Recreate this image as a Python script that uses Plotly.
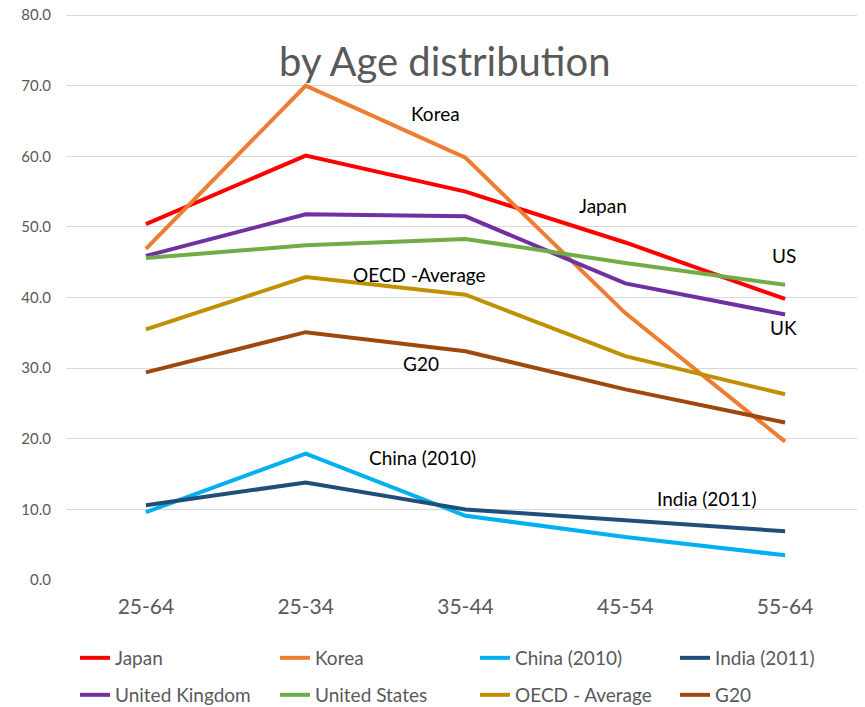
import plotly.graph_objects as go

categories = ["25-64", "25-34", "35-44", "45-54", "55-64"]
japan = [50.4, 60.1, 55.0, 47.8, 39.8]
korea = [46.9, 70.0, 59.8, 37.8, 19.6]
china = [9.6, 17.9, 9.1, 6.1, 3.5]
india = [10.6, 13.8, 10.0, 8.4, 6.9]
uk = [45.9, 51.8, 51.5, 42.0, 37.6]
us = [45.6, 47.4, 48.3, 44.9, 41.8]
oecd = [35.5, 42.9, 40.4, 31.7, 26.3]
g20 = [29.4, 35.1, 32.4, 27.0, 22.3]
yticks = [0, 10, 20, 30, 40, 50, 60, 70, 80]

series = [
    ("Japan", japan, "#FF0000", "legend"),
    ("Korea", korea, "#ED7D31", "legend"),
    ("China (2010)", china, "#00B0F0", "legend"),
    ("India (2011)", india, "#1F4E79", "legend"),
    ("United Kingdom", uk, "#7030A0", "legend2"),
    ("United States", us, "#70AD47", "legend2"),
    ("OECD - Average", oecd, "#BF9000", "legend2"),
    ("G20", g20, "#9E480E", "legend2"),
]

FONT = "Lato, Carlito, Calibri, sans-serif"
GRAY = "#595959"

# page body has an 8px margin; work in figure coordinates
OFF = 8
W, H = 865 - OFF, 707 - OFF
YMAX = 80.3
plot_bottom = 580 - OFF
px_per_unit = 565 / 80
ph = px_per_unit * YMAX
L = 66 - OFF
T = plot_bottom - ph
B = H - plot_bottom
R = 0
pw = W - L - R

fig = go.Figure()
for name, vals, color, lg in series:
    fig.add_trace(go.Scatter(x=categories, y=vals, name=name, mode="lines",
                             line=dict(color=color, width=4), legend=lg))

labels = [
    ("Korea", 1.81, 66.1),
    ("Japan", 2.86, 53.0),
    ("US", 3.99, 46.0),
    ("UK", 3.99, 35.7),
    ("OECD -Average", 1.71, 43.2),
    ("G20", 1.72, 30.7),
    ("China (2010)", 1.73, 17.3),
    ("India (2011)", 3.51, 11.6),
]
for t, x, y in labels:
    fig.add_annotation(x=x, y=y, xref="x", yref="y", text=t, showarrow=False,
                       font=dict(family=FONT, size=19, color="#000000"))

fig.add_annotation(x=(445 - OFF - L) / pw, y=(plot_bottom - (35 - OFF)) / ph,
                   xref="paper", yref="paper",
                   text="by Age distribution", showarrow=False,
                   font=dict(family=FONT, size=40, color=GRAY))

legfont = dict(family=FONT, size=19, color=GRAY)
lx = (75 - OFF - L) / pw
fig.update_layout(
    width=W, height=H,
    margin=dict(l=L, r=R, t=T, b=B, autoexpand=False),
    plot_bgcolor="white", paper_bgcolor="white",
    xaxis=dict(type="category", range=[-0.5, 4.5], showgrid=False, showline=False,
               ticks="", tickfont=dict(family=FONT, size=21, color=GRAY),
               ticklabelstandoff=12),
    yaxis=dict(range=[0, YMAX], tickvals=yticks, tickformat=".1f", showgrid=True,
               gridcolor="#D9D9D9", gridwidth=1, zeroline=False, showline=False,
               tickfont=dict(family=FONT, size=15, color=GRAY), ticklabelstandoff=14,
               ticklabeloverflow="allow"),
    legend=dict(orientation="h", x=lx, xanchor="left",
                y=-((639 - OFF) - plot_bottom) / ph, yanchor="top", font=legfont,
                entrywidth=155, entrywidthmode="pixels", bgcolor="rgba(0,0,0,0)"),
    legend2=dict(orientation="h", x=lx, xanchor="left",
                 y=-((676 - OFF) - plot_bottom) / ph, yanchor="top", font=legfont,
                 entrywidth=155, entrywidthmode="pixels", bgcolor="rgba(0,0,0,0)"),
    showlegend=True,
)

fig.write_html("out.html")
